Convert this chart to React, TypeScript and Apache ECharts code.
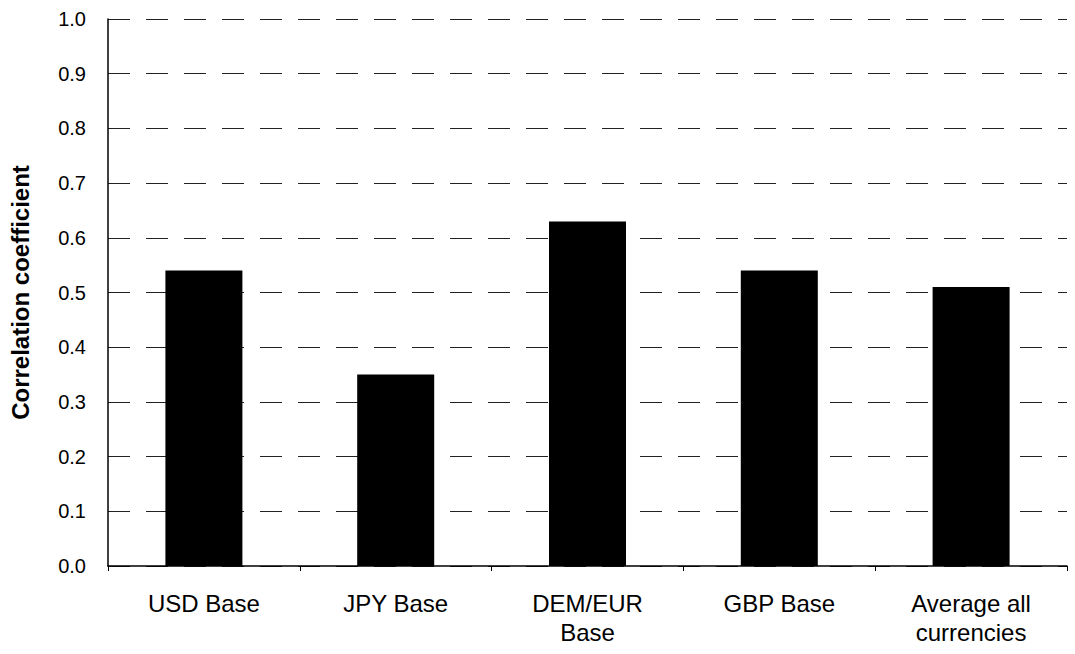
import React, { useEffect, useRef } from "react";
import * as echarts from "echarts";

const categories = ["USD Base", "JPY Base", "DEM/EUR\nBase", "GBP Base", "Average all\ncurrencies"];
const correlation = [0.54, 0.35, 0.63, 0.54, 0.51];
const yTicks = [0, 0.1, 0.2, 0.3, 0.4, 0.5, 0.6, 0.7, 0.8, 0.9, 1.0];

const FONT = "'Liberation Sans', Arial, sans-serif";

export default function App() {
  const ref = useRef<HTMLDivElement>(null);
  useEffect(() => {
    if (!ref.current) return;
    const chart = echarts.init(ref.current, null, { renderer: "svg" });
    chart.setOption({
      animation: false,
      backgroundColor: "#ffffff",
      grid: { left: 107, right: 8, top: 19, bottom: 88, containLabel: false },
      xAxis: {
        type: "category",
        data: categories,
        axisLine: { show: true, lineStyle: { color: "#000", width: 1.5 } },
        axisTick: { show: true, alignWithLabel: false, length: 5, lineStyle: { color: "#000" } },
        axisLabel: {
          color: "#000",
          fontFamily: FONT,
          fontSize: 24,
          lineHeight: 29,
          margin: 23,
          interval: 0,
        },
      },
      yAxis: {
        type: "value",
        min: 0,
        max: 1,
        interval: 0.1,
        name: "Correlation coefficient",
        nameLocation: "middle",
        nameGap: 76,
        nameTextStyle: { color: "#000", fontFamily: FONT, fontSize: 24, fontWeight: "bold" },
        axisLine: { show: true, lineStyle: { color: "#000", width: 1.5 } },
        axisTick: { show: false },
        axisLabel: {
          color: "#000",
          fontFamily: FONT,
          fontSize: 20,
          margin: 22,
          formatter: (v: number) => {
            const t = yTicks.find((x) => Math.abs(x - v) < 1e-6);
            return t === undefined ? "" : t.toFixed(1);
          },
        },
        splitLine: {
          show: true,
          lineStyle: { color: "#222", width: 1, type: [22, 16] },
        },
      },
      series: [
        {
          type: "bar",
          data: correlation,
          barWidth: 77,
          itemStyle: { color: "#000" },
        },
      ],
    });
    return () => chart.dispose();
  }, []);
  return (
    <div
      ref={ref}
      style={{ position: "fixed", left: 0, top: 0, width: 1075, height: 654, background: "#fff" }}
    />
  );
}
